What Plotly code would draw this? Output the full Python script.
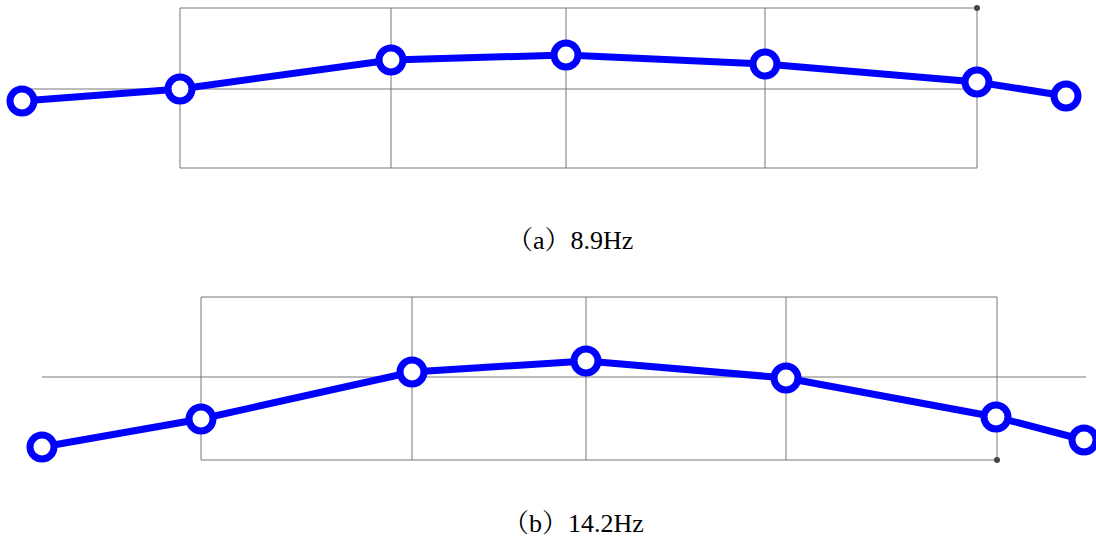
import plotly.graph_objects as go

# ---------------- data ----------------
# panel (a) 8.9Hz
xa = [-15.8, 0, 21.1, 38.6, 58.5, 79.7, 88.6]
ya = [-1.2, 0, 2.9, 3.4, 2.5, 0.7, -0.7]
grid_xa = [0, 21.1, 38.6, 58.5, 79.7]
frame_ya = [-7.9, 8.1]
base_xa = [-15.8, 81.1]

# panel (b) 14.2Hz
xb = [-15.9, 0, 21.1, 38.5, 58.5, 79.5, 88.3]
yb = [-7.0, -4.2, 0.5, 1.6, -0.1, -4.0, -6.3]
grid_xb = [0, 21.1, 38.5, 58.5, 79.6]
frame_yb = [-8.3, 8.0]
base_xb = [-15.9, 88.5]

captions = ["（a）8.9Hz", "（b）14.2Hz"]

BLUE = "#0000ff"
GRAY = "#777777"
FONT = "'Liberation Serif', 'Noto Serif CJK SC', 'Noto Sans CJK SC', serif"

fig = go.Figure()


def add_panel(xs, ys, gx, fy, bx, xaxis, yaxis):
    # frame and vertical grid lines
    lx, ly = [], []
    for g in gx:
        lx += [g, g, None]
        ly += [fy[0], fy[1], None]
    for h in fy:
        lx += [gx[0], gx[-1], None]
        ly += [h, h, None]
    fig.add_trace(go.Scatter(x=lx, y=ly, mode="lines",
                             line=dict(color=GRAY, width=1),
                             xaxis=xaxis, yaxis=yaxis, hoverinfo="skip",
                             showlegend=False))
    # baseline (zero line)
    fig.add_trace(go.Scatter(x=bx, y=[0, 0], mode="lines",
                             line=dict(color=GRAY, width=1),
                             xaxis=xaxis, yaxis=yaxis, hoverinfo="skip",
                             showlegend=False))
    # mode shape
    fig.add_trace(go.Scatter(x=xs, y=ys, mode="lines+markers",
                             line=dict(color=BLUE, width=7),
                             marker=dict(symbol="circle", size=24,
                                         color="white",
                                         line=dict(color=BLUE, width=7)),
                             cliponaxis=False,
                             xaxis=xaxis, yaxis=yaxis, showlegend=False))


add_panel(xa, ya, grid_xa, frame_ya, base_xa, "x", "y")
add_panel(xb, yb, grid_xb, frame_yb, base_xb, "x2", "y2")

# corner dots
fig.add_trace(go.Scatter(x=[grid_xa[-1]], y=[frame_ya[1]], mode="markers",
                         marker=dict(color="#444444", size=6),
                         cliponaxis=False,
                         xaxis="x", yaxis="y", showlegend=False))
fig.add_trace(go.Scatter(x=[grid_xb[-1]], y=[frame_yb[0]], mode="markers",
                         marker=dict(color="#444444", size=6),
                         cliponaxis=False,
                         xaxis="x2", yaxis="y2", showlegend=False))

W, H = 1096, 542
ax_common = dict(visible=False, showgrid=False, zeroline=False, fixedrange=True)

fig.update_layout(
    width=W, height=H,
    margin=dict(l=0, r=0, t=0, b=0),
    paper_bgcolor="white", plot_bgcolor="rgba(0,0,0,0)",
    showlegend=False,
    xaxis=dict(domain=[0, 1], range=[-18.0, 91.6], anchor="y", **ax_common),
    yaxis=dict(domain=[1 - 200 / H, 1], range=[-11.1, 8.9], anchor="x", **ax_common),
    xaxis2=dict(domain=[0, 1], range=[-20.1, 89.5], anchor="y2", **ax_common),
    yaxis2=dict(domain=[1 - 480 / H, 1 - 280 / H], range=[-10.3, 9.7], anchor="x2", **ax_common),
    annotations=[
        dict(text=captions[0], x=570 / W, y=1 - 240 / H, xref="paper", yref="paper",
             showarrow=False, xanchor="center", yanchor="middle",
             font=dict(family=FONT, size=26, color="black")),
        dict(text=captions[1], x=573 / W, y=1 - 523 / H, xref="paper", yref="paper",
             showarrow=False, xanchor="center", yanchor="middle",
             font=dict(family=FONT, size=26, color="black")),
    ],
)

fig.write_html("out.html",
               config={"displayModeBar": False, "staticPlot": True},
               post_script="document.body.style.margin='0';document.body.style.overflow='hidden';")
